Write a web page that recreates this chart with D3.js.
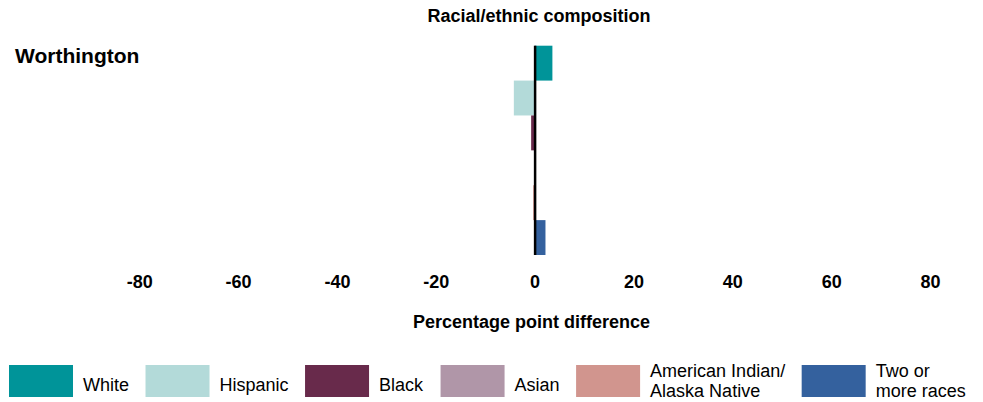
<!DOCTYPE html>
<html>
<head>
<meta charset="utf-8">
<script src="https://cdn.jsdelivr.net/npm/d3@7"></script>
<style>
  html, body { margin: 0; padding: 0; background: #ffffff; }
  svg { display: block; font-family: "Liberation Sans", Arial, sans-serif; }
</style>
</head>
<body>
<svg id="chart" width="983" height="402"></svg>
<script>
// ---- data ----
const categories = ["White", "Hispanic", "Black", "Asian", "American Indian/Alaska Native", "Two or more races"];
const legendLabels = [["White"], ["Hispanic"], ["Black"], ["Asian"], ["American Indian/", "Alaska Native"], ["Two or", "more races"]];
const values = [3.6, -4.2, -0.7, -0.1, -0.3, 2.2];
const colors = ["#009499", "#b3dad9", "#682a4b", "#b096a8", "#d1958e", "#34619e"];
const tickValues = [-80, -60, -40, -20, 0, 20, 40, 60, 80];
const placeName = "Worthington";
const chartTitle = "Racial/ethnic composition";
const axisTitle = "Percentage point difference";

// ---- layout ----
const svg = d3.select("#chart");
const x = d3.scaleLinear().domain([-80, 80]).range([139.2, 930]);
const y = d3.scaleBand().domain(categories).range([45.7, 255]).padding(0);
const color = d3.scaleOrdinal().domain(categories).range(colors);

svg.append("text")
  .attr("x", 539).attr("y", 22)
  .attr("text-anchor", "middle")
  .attr("font-size", 18).attr("font-weight", "bold")
  .attr("fill", "#000")
  .text(chartTitle);

svg.append("text")
  .attr("x", 15).attr("y", 63)
  .attr("font-size", 21).attr("font-weight", "bold")
  .attr("fill", "#000")
  .text(placeName);

// bars
svg.append("g").selectAll("rect")
  .data(categories.map((c, i) => ({ c, v: values[i] })))
  .join("rect")
  .attr("x", d => Math.min(x(0), x(d.v)))
  .attr("width", d => Math.abs(x(d.v) - x(0)))
  .attr("y", d => y(d.c))
  .attr("height", y.bandwidth())
  .attr("fill", d => color(d.c));

// zero line
svg.append("line")
  .attr("x1", x(0) + 0.5).attr("x2", x(0) + 0.5)
  .attr("y1", y.range()[0]).attr("y2", y.range()[1])
  .attr("stroke", "#000").attr("stroke-width", 2.5);

// axis (labels only)
const axis = d3.axisBottom(x).tickValues(tickValues).tickSize(0).tickPadding(0).tickFormat(d => String(d));
const gAxis = svg.append("g").attr("transform", "translate(0,274)").call(axis);
gAxis.select(".domain").remove();
gAxis.selectAll("text")
  .attr("font-size", 18).attr("font-weight", "bold")
  .attr("font-family", "\"Liberation Sans\", Arial, sans-serif")
  .attr("fill", "#000")
  .attr("dy", "0.78em");

svg.append("text")
  .attr("x", 531.5).attr("y", 328)
  .attr("text-anchor", "middle")
  .attr("font-size", 18).attr("font-weight", "bold")
  .attr("fill", "#000")
  .text(axisTitle);

// legend
const legend = svg.append("g");
let lx = 9;
legendLabels.forEach((lines, i) => {
  const g = legend.append("g");
  g.append("rect")
    .attr("x", lx).attr("y", 365)
    .attr("width", 64).attr("height", 32)
    .attr("fill", colors[i]);
  const t = g.append("text")
    .attr("font-size", 18)
    .attr("fill", "#000");
  if (lines.length === 1) {
    t.append("tspan").attr("x", lx + 74).attr("y", 391).text(lines[0]);
  } else {
    lines.forEach((ln, k) => {
      t.append("tspan").attr("x", lx + 74).attr("y", 377 + k * 20).text(ln);
    });
  }
  const w = t.node().getBBox().width;
  lx = lx + 74 + w + 16.5;
});
</script>
</body>
</html>
